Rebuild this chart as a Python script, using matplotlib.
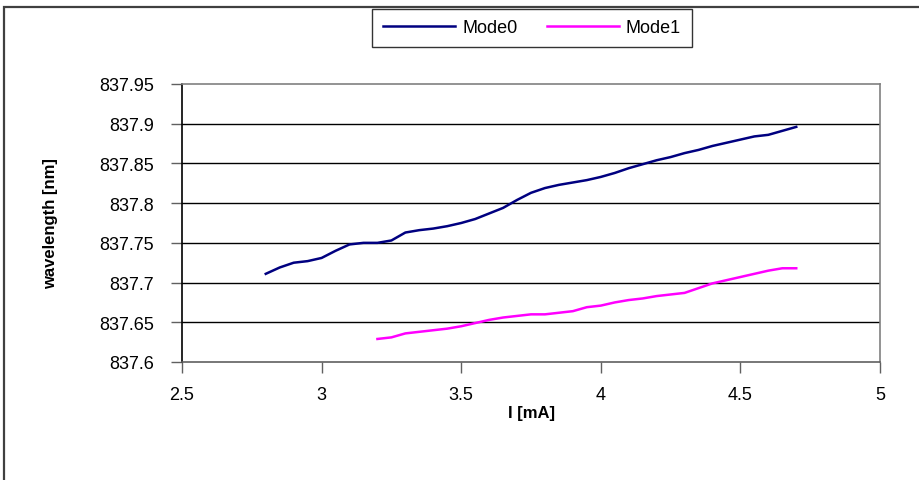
import matplotlib
matplotlib.use("Agg")
import matplotlib.pyplot as plt
from matplotlib.patches import Rectangle

plt.rcParams['font.family'] = ['Liberation Sans', 'DejaVu Sans']

# Mode0 readings
currentMode0 = [2.80, 2.85, 2.90, 2.95, 3.00, 3.05, 3.10, 3.15, 3.20, 3.25,
                3.30, 3.35, 3.40, 3.45, 3.50, 3.55, 3.60, 3.65, 3.70, 3.75,
                3.80, 3.85, 3.90, 3.95, 4.00, 4.05, 4.10, 4.15, 4.20, 4.25,
                4.30, 4.35, 4.40, 4.45, 4.50, 4.55, 4.60, 4.65, 4.70]
waveMode0 = [837.711, 837.719, 837.725, 837.727, 837.731, 837.740, 837.748, 837.750, 837.750, 837.753,
             837.763, 837.766, 837.768, 837.771, 837.775, 837.780, 837.787, 837.794, 837.804, 837.813,
             837.819, 837.823, 837.826, 837.829, 837.833, 837.838, 837.844, 837.849, 837.854, 837.858,
             837.863, 837.867, 837.872, 837.876, 837.880, 837.884, 837.886, 837.891, 837.896]

# Mode1 readings
currentMode1 = [3.20, 3.25, 3.30, 3.35, 3.40, 3.45, 3.50, 3.55, 3.60, 3.65,
                3.70, 3.75, 3.80, 3.85, 3.90, 3.95, 4.00, 4.05, 4.10, 4.15,
                4.20, 4.25, 4.30, 4.35, 4.40, 4.45, 4.50, 4.55, 4.60, 4.65, 4.70]
waveMode1 = [837.629, 837.631, 837.636, 837.638, 837.640, 837.642, 837.645, 837.649, 837.653, 837.656,
             837.658, 837.660, 837.660, 837.662, 837.664, 837.669, 837.671, 837.675, 837.678, 837.680,
             837.683, 837.685, 837.687, 837.693, 837.699, 837.703, 837.707, 837.711, 837.715, 837.718, 837.718]

xTicks = [2.5, 3, 3.5, 4, 4.5, 5]
xTickLabels = ['2.5', '3', '3.5', '4', '4.5', '5']
yTicks = [837.6, 837.65, 837.7, 837.75, 837.8, 837.85, 837.9, 837.95]
yTickLabels = ['837.6', '837.65', '837.7', '837.75', '837.8', '837.85', '837.9', '837.95']

fig = plt.figure(figsize=(9.19, 4.81), dpi=100)
fig.patch.set_facecolor('white')

# outer chart border (runs off the right and bottom edges)
fig.patches.append(Rectangle((4/919, -0.05), 1.0, 1 - 8/481 + 0.05, transform=fig.transFigure,
                             fill=False, edgecolor='#404040', linewidth=1.6))

ax = fig.add_axes([182/919, 1 - 363/481, (880 - 182)/919, (363 - 85)/481])

ax.plot(currentMode0, waveMode0, color='#000080', linewidth=1.8, label='Mode0')
ax.plot(currentMode1, waveMode1, color='#FF00FF', linewidth=1.8, label='Mode1')

ax.set_xlim(2.5, 5)
ax.set_ylim(837.6, 837.95)
ax.set_xticks(xTicks)
ax.set_xticklabels(xTickLabels)
ax.set_yticks(yTicks)
ax.set_yticklabels(yTickLabels)

for yv in yTicks[1:-1]:
    ax.axhline(yv, color='black', linewidth=1.0, zorder=0)

ax.spines['left'].set_color('black')
ax.spines['bottom'].set_color('#606060')
ax.spines['top'].set_color('#808080')
ax.spines['right'].set_color('#808080')
for s in ax.spines.values():
    s.set_linewidth(1.2)

ax.tick_params(axis='both', direction='out', length=8, width=1, colors='#606060',
               labelcolor='black', labelsize=13)
ax.tick_params(axis='y', pad=12)
ax.tick_params(axis='x', pad=9)

ax.set_xlabel('I [mA]', fontsize=12, fontweight='bold', labelpad=2)
ax.set_ylabel('wavelength [nm]', fontsize=12, fontweight='bold', labelpad=30)

leg = fig.legend(loc='center', bbox_to_anchor=(532/919, 1 - 29/481), ncol=2, fontsize=13,
                 frameon=True, fancybox=False, edgecolor='black', handlelength=4.0,
                 handletextpad=0.4, columnspacing=1.6, borderpad=0.6)
leg.get_frame().set_linewidth(1.0)

fig.savefig('out.png', dpi=100)
